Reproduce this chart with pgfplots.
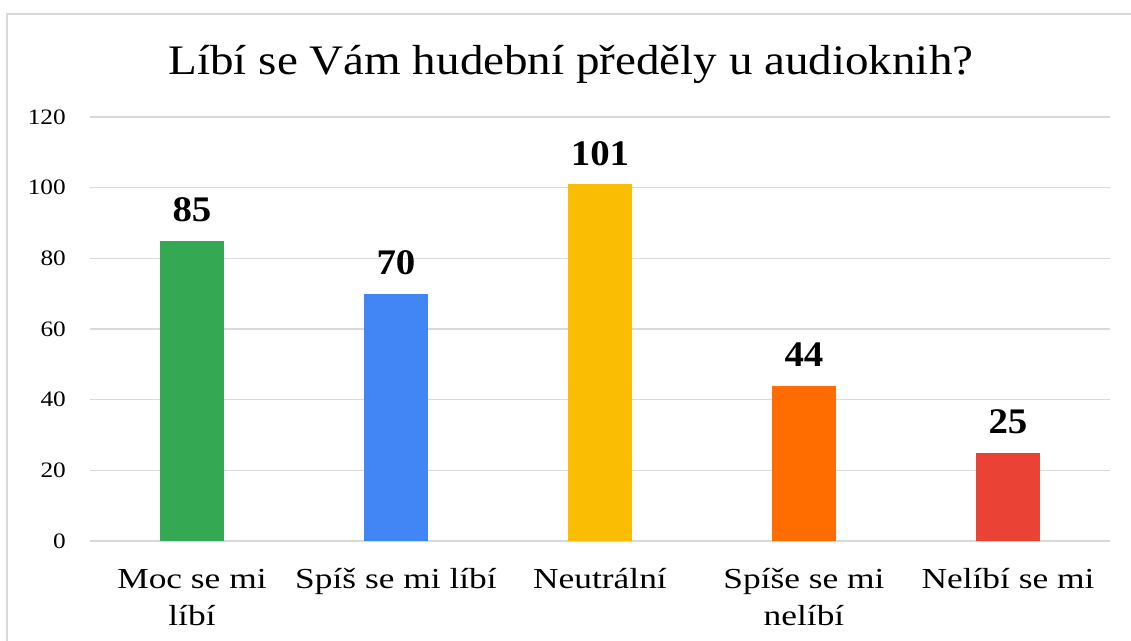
\documentclass[border=0pt]{standalone}
\usepackage{fontspec}
\setmainfont{Liberation Serif}
\newfontfamily\titlefont[FakeStretch=1.12]{Liberation Serif}
\newfontfamily\catfont[FakeStretch=1.22]{Liberation Serif}
\newfontfamily\tickfont[FakeStretch=1.15]{Liberation Serif}
\newfontfamily\barfont[FakeStretch=1.08]{Liberation Serif}
\usepackage{pgfplots}
\pgfplotsset{compat=1.18}
\definecolor{cgreen}{HTML}{34A853}
\definecolor{cblue}{HTML}{4285F4}
\definecolor{cyellow}{HTML}{FBBC04}
\definecolor{corange}{HTML}{FF6D01}
\definecolor{cred}{HTML}{EA4335}
\definecolor{gridc}{HTML}{D9D9D9}
\begin{document}
\begin{tikzpicture}
\useasboundingbox (0,0) rectangle (1131bp,641bp);
\fill[white] (0,0) rectangle (1131bp,641bp);
\draw[gridc, line width=1.5bp] (7bp,0) -- (7bp,627bp) -- (1131bp,627bp);
\node[anchor=base, inner sep=0, font=\titlefont\fontsize{42bp}{50bp}\selectfont] at (571bp,566bp) {Líbí se Vám hudební předěly u audioknih?};
\begin{axis}[
  at={(90bp,100bp)}, anchor=south west,
  scale only axis, width=1020bp, height=424bp,
  xmin=-0.5, xmax=4.5, ymin=0, ymax=120,
  ytick={0,20,40,60,80,100,120},
  xtick={0,1,2,3,4},
  xticklabels={{\begin{tabular}[t]{@{}c@{}}Moc se mi\\líbí\end{tabular}},{Spíš se mi líbí},{Neutrální},{\begin{tabular}[t]{@{}c@{}}Spíše se mi\\nelíbí\end{tabular}},{Nelíbí se mi}},
  axis line style={draw=none},
  major tick length=0pt,
  ymajorgrids, grid style={gridc, line width=1.5bp},
  /pgf/number format/assume math mode=true,
  yticklabel style={font=\tickfont\fontsize{22bp}{26bp}\selectfont, anchor=east, inner sep=0pt, xshift=-24bp},
  xticklabel style={font=\catfont\fontsize{29bp}{37bp}\selectfont, anchor=base, inner sep=0pt, yshift=-47bp},
  ybar, bar width=64bp, bar shift=0pt,
  nodes near coords,
  every node near coord/.append style={font=\barfont\fontsize{36bp}{40bp}\selectfont\bfseries, anchor=base, inner sep=0pt, yshift=19bp, text=black},
  clip=false,
]
\addplot[fill=cgreen, draw=none] coordinates {(0,85)};
\addplot[fill=cblue, draw=none] coordinates {(1,70)};
\addplot[fill=cyellow, draw=none] coordinates {(2,101)};
\addplot[fill=corange, draw=none] coordinates {(3,44)};
\addplot[fill=cred, draw=none] coordinates {(4,25)};
\end{axis}
\end{tikzpicture}
\end{document}
